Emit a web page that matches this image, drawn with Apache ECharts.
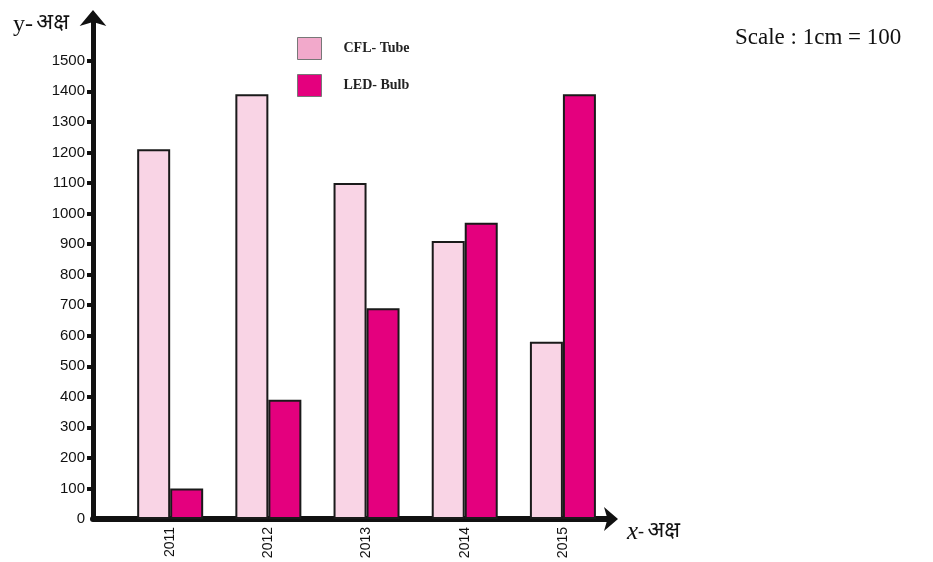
<!DOCTYPE html>
<html>
<head>
<meta charset="utf-8">
<script src="https://cdn.jsdelivr.net/npm/echarts@6/dist/echarts.min.js"></script>
<style>
  html, body { margin: 0; padding: 0; background: #fff; }
  #chart { width: 933px; height: 562px; }
</style>
</head>
<body>
<div id="chart"></div>
<script>
// years on x axis
var years = ['2011', '2012', '2013', '2014', '2015'];
// CFL tube / LED bulb values
var cflTube = [1210, 1390, 1100, 910, 580];
var ledBulb = [100, 390, 690, 970, 1390];
// y tick labels
var yTicks = [0, 100, 200, 300, 400, 500, 600, 700, 800, 900, 1000, 1100, 1200, 1300, 1400, 1500];

var dom = echarts.init(document.getElementById('chart'));
var serif = '"Liberation Serif", "Times New Roman", serif';
var deva = '"Noto Sans Devanagari", "Noto Sans", "DejaVu Sans", sans-serif';
var sans = '"Liberation Sans", Arial, sans-serif';

var series = [
  {
    name: 'CFL- Tube',
    type: 'bar',
    barWidth: 33,
    barGap: '0%',
    itemStyle: { color: '#f9d4e5', borderColor: '#1a1a1a', borderWidth: 2 },
    data: years.map(function (y, i) { return [i, cflTube[i]]; })
  },
  {
    name: 'LED- Bulb',
    type: 'bar',
    barWidth: 33,
    barGap: '0%',
    itemStyle: { color: '#e4007e', borderColor: '#1a1a1a', borderWidth: 2 },
    data: years.map(function (y, i) { return [i, ledBulb[i]]; })
  }
];

dom.setOption({
  animation: false,
  grid: { left: 93, right: 321, top: 18, bottom: 43 },
  legend: {
    orient: 'vertical',
    left: 297,
    top: 37,
    padding: 0,
    itemWidth: 24,
    itemHeight: 22,
    itemGap: 14,
    icon: 'rect',
    data: [
      { name: 'CFL- Tube', itemStyle: { color: '#f2a9cb', borderColor: '#777', borderWidth: 1 } },
      { name: 'LED- Bulb', itemStyle: { color: '#e4007e', borderColor: '#777', borderWidth: 1 } }
    ],
    textStyle: { fontFamily: serif, fontSize: 14, fontWeight: 'bold', color: '#222', padding: [0, 0, 0, 17] }
  },
  xAxis: {
    type: 'value',
    min: -0.786,
    max: 4.5,
    splitLine: { show: false },
    axisLine: {
      show: true,
      onZero: false,
      symbol: ['none', 'arrow'],
      symbolSize: [18, 14],
      symbolOffset: [0, 6],
      lineStyle: { color: '#111', width: 6 }
    },
    axisTick: { show: false },
    axisLabel: {
      customValues: [0, 1, 2, 3, 4],
      rotate: 90,
      margin: 8,
      fontFamily: sans,
      fontSize: 14,
      color: '#111',
      formatter: function (v) { return years[Math.round(v)]; }
    }
  },
  yAxis: {
    type: 'value',
    min: 0,
    max: 1640,
    splitLine: { show: false },
    axisLine: {
      show: true,
      onZero: false,
      symbol: ['none', 'arrow'],
      symbolSize: [20, 16],
      symbolOffset: [0, 8],
      lineStyle: { color: '#111', width: 5 }
    },
    axisTick: {
      show: true,
      length: 6,
      customValues: yTicks.slice(1),
      lineStyle: { color: '#111', width: 4 }
    },
    axisLabel: {
      customValues: yTicks,
      margin: 8,
      fontFamily: sans,
      fontSize: 15,
      color: '#111',
      formatter: function (v) { return String(v); }
    }
  },
  graphic: [
    {
      type: 'text', left: 13, top: 13,
      style: {
        text: '{a|y-} {b|अक्ष}',
        rich: {
          a: { fontFamily: serif, fontSize: 24, fill: '#111' },
          b: { fontFamily: deva, fontSize: 22, fill: '#111' }
        }
      }
    },
    {
      type: 'text', left: 627, top: 520,
      style: {
        text: '{a|x}{c|-} {b|अक्ष}',
        rich: {
          a: { fontFamily: serif, fontStyle: 'italic', fontSize: 25, fill: '#111' },
          c: { fontFamily: serif, fontSize: 18, fill: '#111' },
          b: { fontFamily: deva, fontSize: 22, fill: '#111' }
        }
      }
    },
    {
      type: 'text', left: 735, top: 26,
      style: { text: 'Scale : 1cm = 100', fontFamily: serif, fontSize: 23, fill: '#111' }
    }
  ],
  series: series
});
</script>
</body>
</html>
